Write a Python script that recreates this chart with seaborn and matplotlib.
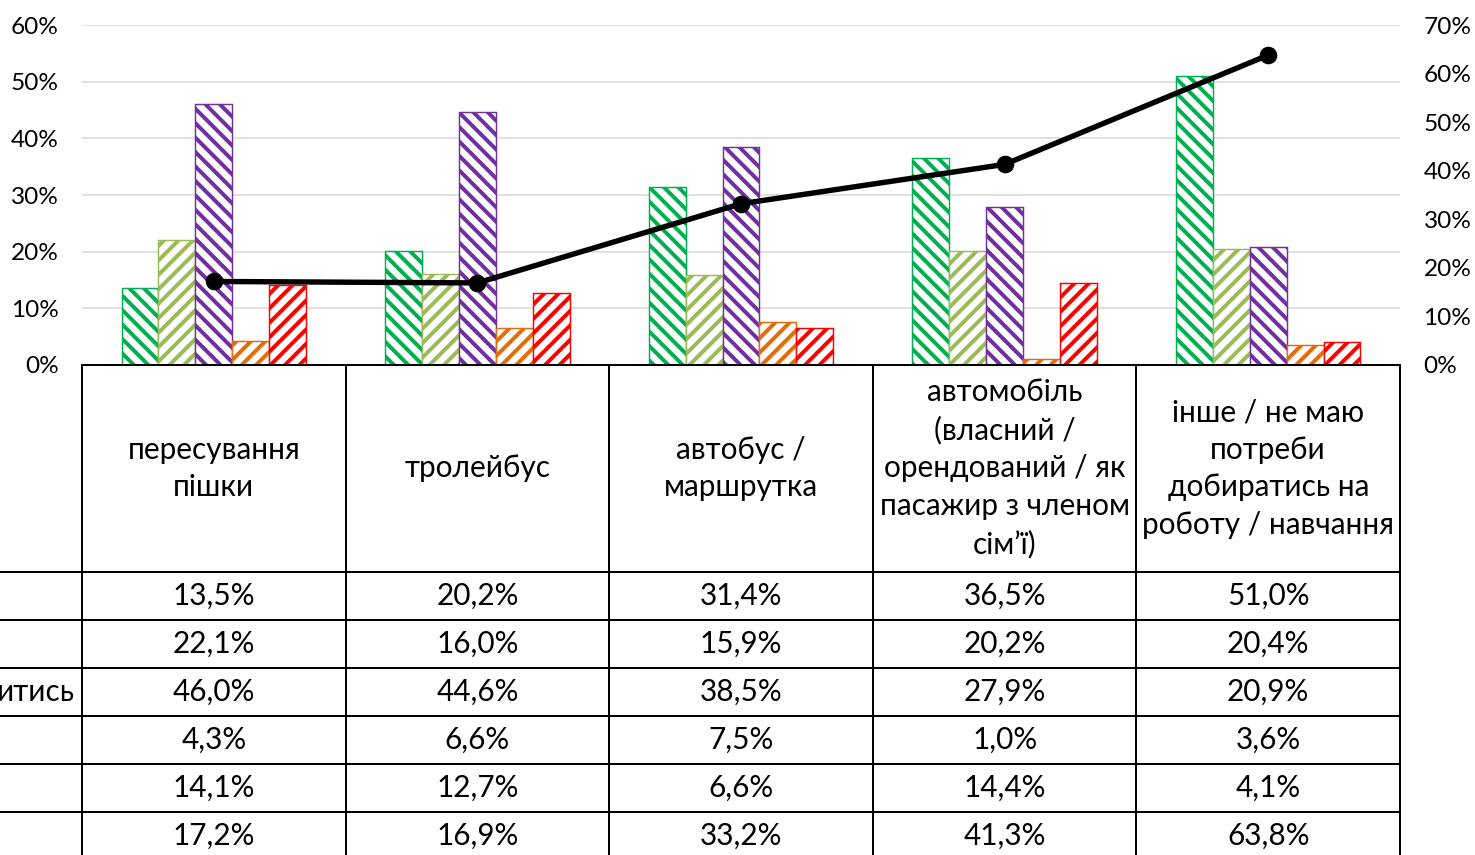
import numpy as np
import pandas as pd
import matplotlib
matplotlib.use("Agg")
import matplotlib.pyplot as plt
import seaborn as sns
from matplotlib.ticker import PercentFormatter

categories = [
    "пересування\nпішки",
    "тролейбус",
    "автобус /\nмаршрутка",
    "автомобіль\n(власний /\nорендований / як\nпасажир з членом\nсім’ї)",
    "інше / не маю\nпотреби\nдобиратись на\nроботу / навчання",
]
series_keys = ["s1", "s2", "s3", "s4", "s5"]
row_labels = ["", "", "итись", "", "", ""]
s1 = [13.5, 20.2, 31.4, 36.5, 51.0]
s2 = [22.1, 16.0, 15.9, 20.2, 20.4]
s3 = [46.0, 44.6, 38.5, 27.9, 20.9]
s4 = [4.3, 6.6, 7.5, 1.0, 3.6]
s5 = [14.1, 12.7, 6.6, 14.4, 4.1]
line_vals = [17.2, 16.9, 33.2, 41.3, 63.8]

colors = ["#00B050", "#9BBB59", "#7030A0", "#E46C0A", "#FF0000"]
hatches = ["\\\\\\", "///", "\\\\\\", "///", "///"]

DPI = 130
W, H = 1475, 855

sns.set_theme(style="white")
plt.rcParams["font.family"] = ["Lato", "DejaVu Sans"]
plt.rcParams["hatch.linewidth"] = 2.2

df = pd.DataFrame({
    "category": np.repeat(categories, 5),
    "series": series_keys * 5,
    "value": np.array([s1, s2, s3, s4, s5]).T.ravel() / 100,
})

fig = plt.figure(figsize=(W / DPI, H / DPI), dpi=DPI)
ax = fig.add_axes([82 / W, 1 - 365 / H, (1400 - 82) / W, (365 - 25) / H])

sns.barplot(data=df, x="category", y="value", hue="series", order=categories,
            hue_order=series_keys, palette=colors, width=0.7, gap=0,
            saturation=1, legend=False, ax=ax)
for cont, c, h in zip(ax.containers, colors, hatches):
    for bar in cont:
        bar.set_facecolor("white")
        bar.set_edgecolor(c)
        bar.set_hatch(h)
        bar.set_linewidth(0.8)

ax.set_xlim(-0.5, 4.5)
ax.set_ylim(0, 0.6)
ax.set_yticks(np.arange(0, 0.61, 0.1))
ax.yaxis.set_major_formatter(PercentFormatter(1, decimals=0))
ax.set_axisbelow(True)
ax.grid(axis="y", color="#D9D9D9", linewidth=0.85)
ax.set_xticks([])
ax.set_xlabel("")
ax.set_ylabel("")
for s in ["left", "right", "top"]:
    ax.spines[s].set_visible(False)
ax.spines["bottom"].set_color("black")
ax.spines["bottom"].set_linewidth(1.1)
ax.tick_params(axis="y", length=0, pad=13, labelsize=13.5, labelcolor="black")

ax2 = ax.twinx()
sns.pointplot(x=list(range(5)), y=np.array(line_vals) / 100, color="black",
              errorbar=None, markers="o", markersize=7.5, linewidth=3.0,
              native_scale=True, ax=ax2)
ax2.set_xlim(-0.5, 4.5)
ax2.set_ylim(0, 0.7)
ax2.set_yticks(np.arange(0, 0.71, 0.1))
ax2.yaxis.set_major_formatter(PercentFormatter(1, decimals=0))
ax2.set_xticks([])
ax2.set_ylabel("")
for s in ax2.spines.values():
    s.set_visible(False)
ax2.tick_params(axis="y", length=0, pad=13, labelsize=13.5, labelcolor="black")

# data table below the plot
tax = fig.add_axes([82 / W, 0, (1400 - 82) / W, (855 - 365) / H])
tax.set_xlim(-0.5, 4.5)
tax.set_ylim(490, 0)
tax.axis("off")
col_px = (1400 - 82) / 5
x_left = -0.5 - 82 / col_px
lw = 1.1
header_h = 207
row_h = 48

for i in range(6):
    tax.plot([-0.5 + i, -0.5 + i], [0, 495], color="black", lw=lw, clip_on=False)
for r in range(6):
    y = header_h + r * row_h
    tax.plot([x_left, 4.5], [y, y], color="black", lw=lw, clip_on=False)

for j, cat in enumerate(categories):
    tax.text(j, header_h / 2, cat, ha="center", va="center", fontsize=16.5,
             linespacing=1.42, color="black")

table_rows = [s1, s2, s3, s4, s5, line_vals]
for r, vals in enumerate(table_rows):
    yc = header_h + r * row_h + row_h / 2
    for j, v in enumerate(vals):
        tax.text(j, yc, f"{v:.1f}%".replace(".", ","), ha="center", va="center",
                 fontsize=16.5, color="black")
    if row_labels[r]:
        tax.text(-0.5 - 7 / col_px, yc, row_labels[r], ha="right", va="center",
                 fontsize=16.5, color="black", clip_on=False)

fig.savefig("out.png", dpi=DPI, facecolor="white")
